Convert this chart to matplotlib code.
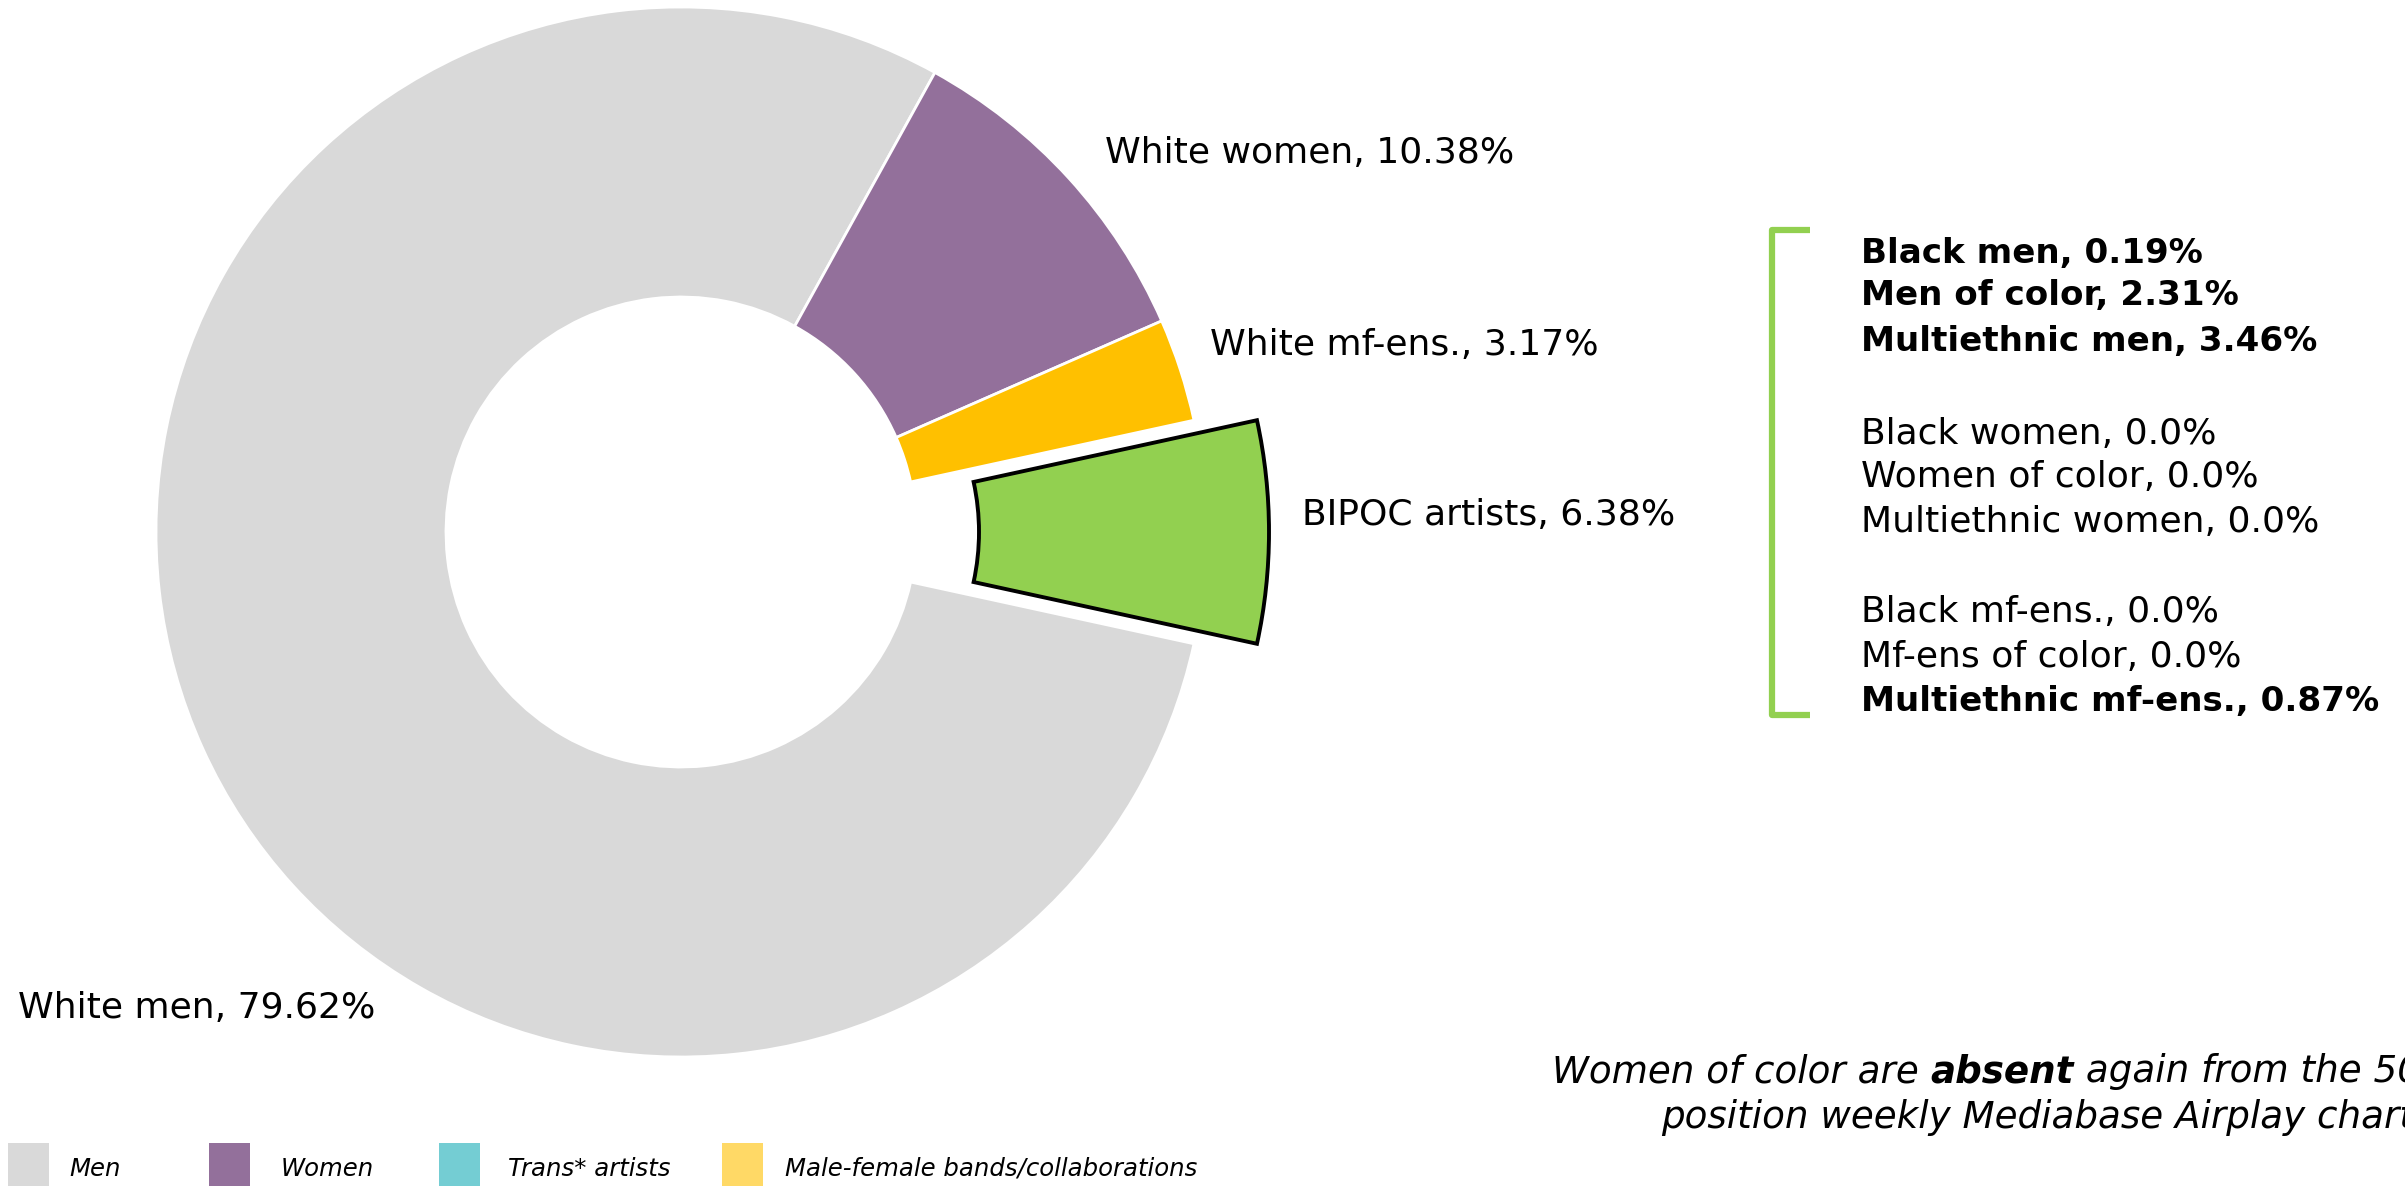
import matplotlib
matplotlib.use("Agg")
import matplotlib.pyplot as plt
from matplotlib.patches import Rectangle

plt.rcParams['font.family'] = ['DejaVu Sans']

# ---- data ----
slice_names = ["White men", "White women", "White mf-ens.", "BIPOC artists"]
slice_values = [79.62, 10.38, 3.17, 6.83]
slice_labels = ["White men, 79.62%", "White women, 10.38%", "White mf-ens., 3.17%", "BIPOC artists, 6.38%"]
slice_colors = ["#d9d9d9", "#93709b", "#ffc000", "#92d050"]

bipoc_lines = ["Black men, 0.19%", "Men of color, 2.31%", "Multiethnic men, 3.46%",
               "Black women, 0.0%", "Women of color, 0.0%", "Multiethnic women, 0.0%",
               "Black mf-ens., 0.0%", "Mf-ens of color, 0.0%", "Multiethnic mf-ens., 0.87%"]
bipoc_bold = [True, True, True, False, False, False, False, False, True]

legend_names = ["Men", "Women", "Trans* artists", "Male-female bands/collaborations"]
legend_colors = ["#d9d9d9", "#93709b", "#74cdd3", "#ffd966"]

W, H = 2405, 1186
fig = plt.figure(figsize=(W / 100, H / 100), dpi=100)
ax = fig.add_axes([0, 0, 1, 1])

cx, cy = 681, H - 532
R = 525
ring = 290
start = -slice_values[3] * 3.6 / 2
wedges, _ = ax.pie(slice_values, colors=slice_colors, startangle=start, counterclock=False,
                   center=(cx, cy), radius=R, explode=[0, 0, 0, 63],
                   wedgeprops=dict(width=ring, edgecolor="white", linewidth=2))
wedges[3].set_edgecolor("black")
wedges[3].set_linewidth(2.8)
wedges[3].set_zorder(3)

ax.set_xlim(0, W)
ax.set_ylim(0, H)
ax.set_aspect("equal")
ax.axis("off")

fs = 26
fs_bold = 24.6
label_pos = [(18, H - 1008), (1105, H - 153), (1210, H - 345), (1302, H - 515)]
for (x, y), t in zip(label_pos, slice_labels):
    ax.text(x, y, t, fontsize=fs, ha="left", va="center", color="black")

# bracket
bx, btop, bbot, bright = 1772, H - 230, H - 715, 1810
ax.plot([bright, bx, bx, bright], [btop, btop, bbot, bbot], color="#92d050", lw=4.5,
        solid_joinstyle="round", solid_capstyle="butt")

ys = [253, 296, 342, 434, 477, 522, 612, 657, 701]
for y, t, b in zip(ys, bipoc_lines, bipoc_bold):
    ax.text(1861, H - y, t, fontsize=fs_bold if b else fs, ha="left", va="center",
            fontweight="bold" if b else "normal", color="black")

# legend
sq_x = [8, 209, 439, 722]
tx_x = [69, 281, 508, 785]
for sx, tx, name, c in zip(sq_x, tx_x, legend_names, legend_colors):
    ax.add_patch(Rectangle((sx, -10), 41, 53, facecolor=c, edgecolor="none", clip_on=False))
    ax.text(tx, H - 1169, name, fontsize=17.6, style="italic", ha="left", va="center")

# note text with mixed styles
fs_note = 26.8
fig.canvas.draw()
r = fig.canvas.get_renderer()
inv = ax.transData.inverted()
parts = [("Women of color are ", "normal"), ("absent", "bold"), (" again from the 50-", "normal")]
x = 1552
for t, w in parts:
    tt = ax.text(x, H - 1072, t, fontsize=fs_note, style="italic", fontweight=w, ha="left", va="center")
    bb = tt.get_window_extent(renderer=r)
    x = inv.transform((bb.x1, 0))[0]
ax.text(1661, H - 1117, "position weekly Mediabase Airplay chart.", fontsize=fs_note, style="italic",
        ha="left", va="center")

fig.savefig("out.png", dpi=100)
